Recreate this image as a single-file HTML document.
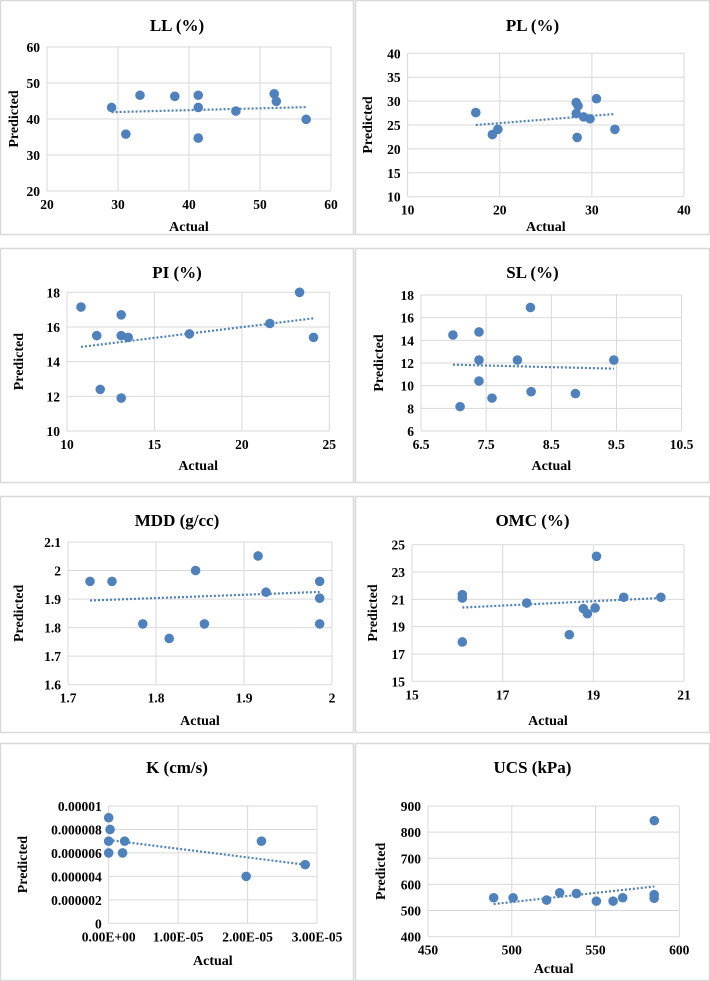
<!DOCTYPE html>
<html><head><meta charset="utf-8"><style>
html,body{margin:0;padding:0;background:#fff;}
svg{display:block;font-family:"Liberation Serif",serif;font-weight:bold;}
</style></head><body>
<svg id="s" width="710" height="981" xmlns="http://www.w3.org/2000/svg"></svg>
<script>
const llX=[29.1,31.1,33.1,38,41.3,41.3,41.3,46.6,52,52.3,56.5];
const llY=[43.2,35.8,46.6,46.3,46.6,43.2,34.7,42.2,47,44.9,39.9];
const llTrend=[41.9,43.3];
const plX=[17.4,19.2,19.8,28.3,28.5,28.3,28.4,29.1,29.8,30.5,32.5];
const plY=[27.6,23.0,24.1,29.7,29.0,27.4,22.4,26.7,26.3,30.5,24.1];
const plTrend=[25.0,27.3];
const piX=[10.8,11.7,11.9,13.1,13.1,13.1,13.5,17.0,21.6,23.3,24.1];
const piY=[17.15,15.5,12.4,16.7,15.5,11.9,15.4,15.6,16.2,18.0,15.4];
const piTrend=[14.85,16.5];
const slX=[6.99,7.1,7.39,7.39,7.39,7.59,7.98,8.18,8.19,8.87,9.46];
const slY=[14.47,8.15,14.74,12.26,10.41,8.9,12.26,16.9,9.47,9.3,12.26];
const slTrend=[11.85,11.5];
const mddX=[1.725,1.75,1.785,1.815,1.845,1.855,1.916,1.925,1.986,1.986,1.986];
const mddY=[1.962,1.962,1.813,1.762,2.0,1.813,2.051,1.924,1.962,1.903,1.813];
const mddTrend=[1.895,1.925];
const omcX=[16.11,16.11,16.11,17.53,18.47,18.78,18.87,19.04,19.07,19.67,20.49];
const omcY=[21.34,21.1,17.88,20.73,18.41,20.32,19.95,20.37,24.15,21.15,21.15];
const omcTrend=[20.4,21.1];
const kX=[0,0.0000002,0,0,0.000002,0.0000023,0.0000198,0.000022,0.0000283];
const kY=[0.000009,0.000008,0.000007,0.000006,0.000006,0.000007,0.000004,0.000007,0.000005];
const kTrend=[0.0000071,0.000005];
const ucsX=[489.2,500.8,520.8,528.6,538.6,550.5,560.5,566.2,585.1,585,585];
const ucsY=[549,549,540,568,565,536,536,549,844,561,547];
const ucsTrend=[525,592];
const llXT=["20","30","40","50","60"], llYT=["20","30","40","50","60"];
const plXT=["10","20","30","40"], plYT=["10","15","20","25","30","35","40"];
const piXT=["10","15","20","25"], piYT=["10","12","14","16","18"];
const slXT=["6.5","7.5","8.5","9.5","10.5"], slYT=["6","8","10","12","14","16","18"];
const mddXT=["1.7","1.8","1.9","2"], mddYT=["1.6","1.7","1.8","1.9","2","2.1"];
const omcXT=["15","17","19","21"], omcYT=["15","17","19","21","23","25"];
const kXT=["0.00E+00","1.00E-05","2.00E-05","3.00E-05"], kYT=["0","0.000002","0.000004","0.000006","0.000008","0.00001"];
const ucsXT=["450","500","550","600"], ucsYT=["400","500","600","700","800","900"];

const NS="http://www.w3.org/2000/svg";
const svg=document.getElementById('s');
function mk(tag,at,parent){const e=document.createElementNS(NS,tag);for(const k in at)e.setAttribute(k,at[k]);(parent||svg).appendChild(e);return e;}

const panels=[
 {id:'ll',title:'LL (%)',X:llX,Y:llY,T:llTrend,xt:llXT,yt:llYT,bx:0,by:0,bw:354,bh:235,px:[47,331],py:[47,191],ty:25,ay:226,plx:13},
 {id:'pl',title:'PL (%)',X:plX,Y:plY,T:plTrend,xt:plXT,yt:plYT,bx:355,by:0,bw:355,bh:235,px:[407.6,684],py:[53.3,196.7],ty:25,ay:226,plx:367},
 {id:'pi',title:'PI (%)',X:piX,Y:piY,T:piTrend,xt:piXT,yt:piYT,bx:0,by:248,bw:354,bh:235,px:[67,329.3],py:[292.3,431],ty:272,ay:465,plx:18},
 {id:'sl',title:'SL (%)',X:slX,Y:slY,T:slTrend,xt:slXT,yt:slYT,bx:355,by:248,bw:355,bh:235,px:[421,681.6],py:[295,431],ty:272,ay:465,plx:378},
 {id:'mdd',title:'MDD (g/cc)',X:mddX,Y:mddY,T:mddTrend,xt:mddXT,yt:mddYT,bx:0,by:496,bw:354,bh:237,px:[68,332],py:[542,684.7],ty:520,ay:720,plx:18},
 {id:'omc',title:'OMC (%)',X:omcX,Y:omcY,T:omcTrend,xt:omcXT,yt:omcYT,bx:355,by:496,bw:355,bh:237,px:[412,684],py:[544.7,681.3],ty:520,ay:720,plx:372},
 {id:'k',title:'K (cm/s)',X:kX,Y:kY,T:kTrend,xt:kXT,yt:kYT,bx:0,by:743,bw:354,bh:238,px:[108.7,317],py:[806,923.3],ty:767,ay:960,plx:22},
 {id:'ucs',title:'UCS (kPa)',X:ucsX,Y:ucsY,T:ucsTrend,xt:ucsXT,yt:ucsYT,bx:355,by:743,bw:355,bh:238,px:[428,679.3],py:[806,936.7],ty:767,ay:968,plx:380}
];

panels.forEach(p=>{
 const g=mk('g',{});
 
 
 const b=mk('rect',{x:p.bx+0.5,y:p.by+0.5,width:p.bw-1,height:p.bh-1,fill:'#fff',stroke:'#d9d9d9','stroke-width':1.5},g);
 
 
 const xmin=parseFloat(p.xt[0]),xmax=parseFloat(p.xt[p.xt.length-1]);
 const ymin=parseFloat(p.yt[0]),ymax=parseFloat(p.yt[p.yt.length-1]);
 const sx=v=>p.px[0]+(v-xmin)/(xmax-xmin)*(p.px[1]-p.px[0]);
 const sy=v=>p.py[1]-(v-ymin)/(ymax-ymin)*(p.py[1]-p.py[0]);
 p.xt.forEach(t=>{const x=sx(parseFloat(t));
  const l=mk('line',{x1:x,x2:x,y1:p.py[0],y2:p.py[1],stroke:'#d9d9d9','stroke-width':1},g);
  
  
  const tx=mk('text',{x:x,y:p.py[1]+18,'text-anchor':'middle','font-size':13.5,fill:'#000'},g);tx.textContent=t;
  
  
 });
 p.yt.forEach(t=>{const y=sy(parseFloat(t));
  const l=mk('line',{x1:p.px[0],x2:p.px[1],y1:y,y2:y,stroke:'#d9d9d9','stroke-width':1},g);
  
  
  const tx=mk('text',{x:p.px[0]-7,y:y+5,'text-anchor':'end','font-size':13.5,fill:'#000'},g);tx.textContent=t;
  
  
 });
 const x0=Math.min(...p.X),x1=Math.max(...p.X);
 const tl=mk('line',{x1:sx(x0),y1:sy(p.T[0]),x2:sx(x1),y2:sy(p.T[1]),stroke:'#4f81bd','stroke-width':2.2,'stroke-dasharray':'2 2'},g);
 
 
 for(let i=0;i<p.X.length;i++){
  const d=mk('circle',{cx:sx(p.X[i]),cy:sy(p.Y[i]),r:4.8,fill:'#4f81bd'},g);
  
  
 }
 const t=mk('text',{x:p.bx+p.bw/2,y:p.ty+6,'text-anchor':'middle','font-size':17,fill:'#000'},g);t.textContent=p.title;
 
 
 const a=mk('text',{x:(p.px[0]+p.px[1])/2,y:p.ay+5,'text-anchor':'middle','font-size':14,fill:'#000'},g);a.textContent='Actual';
 
 
 const cy=(p.py[0]+p.py[1])/2;
 const pr=mk('text',{x:p.plx,y:cy,'text-anchor':'middle','font-size':14,fill:'#000',transform:`rotate(-90 ${p.plx} ${cy})`,dy:5},g);pr.textContent='Predicted';
 
 
});
</script>
</body></html>
